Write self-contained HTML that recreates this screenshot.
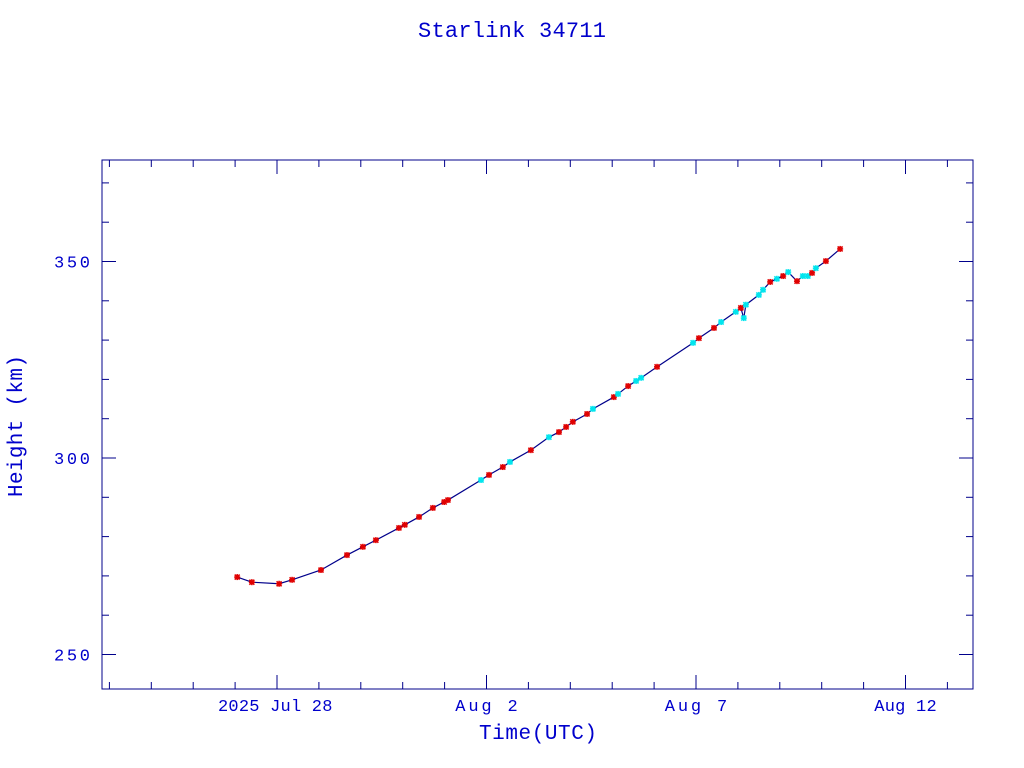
<!DOCTYPE html>
<html><head><meta charset="utf-8"><style>
body{margin:0;background:#fff;}
svg{display:block;font-family:"Liberation Mono",monospace;}
</style></head><body>
<svg id="chart" width="1024" height="768">
<text x="512" y="37" text-anchor="middle" font-size="22" fill="#0000cc" textLength="188">Starlink 34711</text>
<rect x="102" y="160" width="871" height="529" fill="none" stroke="#00008b" stroke-width="1"/>
<g id="axes"></g>
<g id="series"></g>
<text x="538" y="739" text-anchor="middle" font-size="21" fill="#0000cc" textLength="118">Time(UTC)</text>
<text transform="translate(22,426) rotate(-90)" text-anchor="middle" font-size="21" fill="#0000cc" textLength="142">Height (km)</text>
</svg>
<script>
const days=[-0.95,-0.6,0.05,0.36,1.05,1.67,2.05,2.36,2.91,3.05,3.39,3.72,3.99,4.08,4.87,5.06,5.39,5.56,6.06,6.49,6.73,6.9,7.06,7.4,7.54,8.04,8.14,8.38,8.57,8.69,9.07,9.93,10.07,10.43,10.6,10.95,11.07,11.14,11.19,11.5,11.6,11.77,11.93,12.08,12.2,12.41,12.55,12.67,12.77,12.86,13.1,13.44];
const heights=[269.7,268.4,268,269,271.5,275.3,277.4,279.1,282.2,283,285,287.3,288.8,289.3,294.4,295.7,297.7,299,302,305.3,306.6,307.9,309.2,311.2,312.5,315.5,316.3,318.3,319.6,320.4,323.2,329.3,330.5,333.1,334.6,337.2,338.2,335.6,339,341.5,342.8,344.8,345.6,346.3,347.3,345,346.3,346.3,347.1,348.3,350.1,353.2];
const kinds=["r","r","r","r","r","r","r","r","r","r","r","r","r","r","c","r","r","c","r","c","r","r","r","r","c","r","c","r","c","c","r","c","r","r","c","c","r","c","c","c","c","r","c","r","c","r","c","c","r","c","r","r"];
const xTickLabels=["2025 Jul 28","Aug  2","Aug  7","Aug 12"];
const xTickDays=[0,5,10,15];
const yTicks=[250,300,350];
const X=d=>277+d*41.9;
const Y=h=>458-(h-300)*3.93;
const NS="http://www.w3.org/2000/svg";
const ax=document.getElementById('axes'),se=document.getElementById('series');
function mk(t,a,p){const e=document.createElementNS(NS,t);for(const k in a)e.setAttribute(k,a[k]);p.appendChild(e);return e;}
for(let d=-4;d<=16;d++){const x=X(d);if(x<103||x>972)continue;const L=(d%5===0)?14:7;
const t=mk('line',{x1:x,x2:x,y1:689,y2:689-L,stroke:'#00008b'},ax);


const t2=mk('line',{x1:x,x2:x,y1:160,y2:160+L,stroke:'#00008b'},ax);

}
xTickLabels.forEach((s,i)=>{const x=X(xTickDays[i]);const e=mk('text',{x:x,y:711,'text-anchor':'middle','font-size':'17',fill:'#0000cc',textLength:s.length*10.4},ax);e.setAttribute('xml:space','preserve');e.textContent=s;
if(i===0){e.setAttribute('text-anchor','start');e.setAttribute('x',218);}

});
for(let h=250;h<=370;h+=10){const y=Y(h);const L=(h%50===0)?14:7;
const t=mk('line',{x1:102,x2:102+L,y1:y,y2:y,stroke:'#00008b'},ax);


const t2=mk('line',{x1:973,x2:973-L,y1:y,y2:y,stroke:'#00008b'},ax);

}
yTicks.forEach(h=>{const e=mk('text',{x:90,y:Y(h)+6,'text-anchor':'end','font-size':'17',fill:'#0000cc',textLength:36},ax);e.textContent=h;

});
const pl=mk('polyline',{points:days.map((d,i)=>X(d)+','+Y(heights[i])).join(' '),fill:'none',stroke:'#00008b','stroke-width':1.2},se);


days.forEach((d,i)=>{const x=X(d),y=Y(heights[i]);const c=kinds[i]==='r'?'#e00000':'#00e5ee';
const g=mk('g',{stroke:c,'stroke-width':1.6},se);


mk('line',{x1:x-3,x2:x+3,y1:y,y2:y},g);mk('line',{x1:x,x2:x,y1:y-3,y2:y+3},g);
mk('line',{x1:x-2.5,x2:x+2.5,y1:y-2.5,y2:y+2.5},g);mk('line',{x1:x-2.5,x2:x+2.5,y1:y+2.5,y2:y-2.5},g);});
</script>
</body></html>
